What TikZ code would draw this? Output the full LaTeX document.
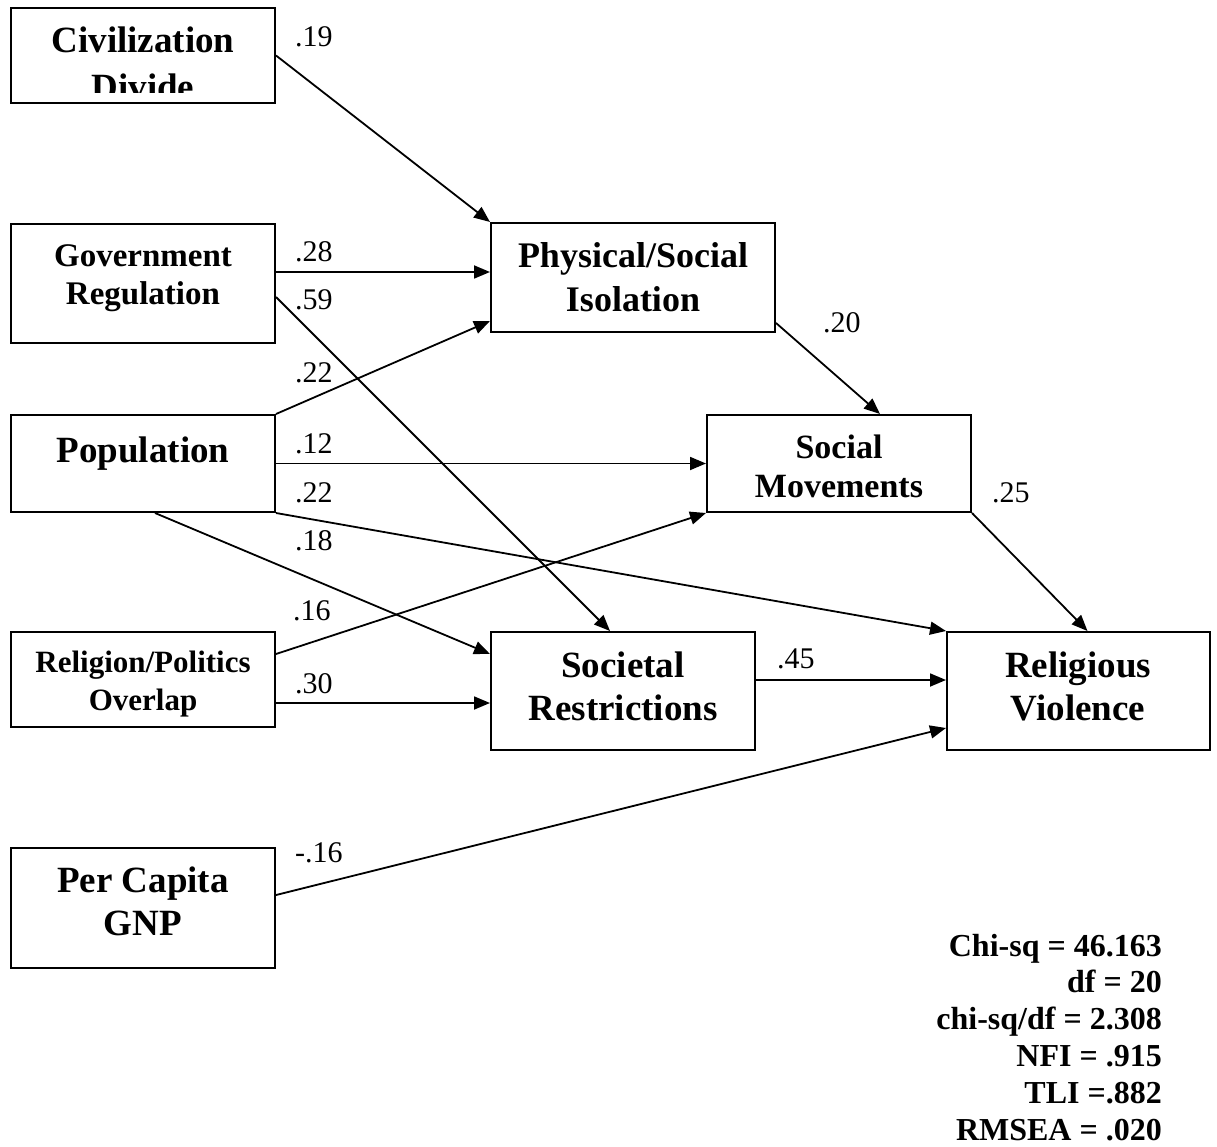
\documentclass[tikz,border=0pt]{standalone}
\usepackage{fontspec}
\setmainfont{Liberation Serif}
\usetikzlibrary{arrows.meta,calc}
\newcommand\twoline[2]{\begin{tabular}[t]{@{}c@{}}#1\\#2\end{tabular}}
\begin{document}
\begin{tikzpicture}[x=1pt,y=-1pt,
  box/.style={draw, line width=2pt, inner sep=0pt, minimum width=264pt},
  txt/.style={inner sep=0pt, anchor=base},
  coef/.style={inner sep=0pt, anchor=base west, font=\fontsize{30}{32}\selectfont},
  arr/.style={line width=1.8pt, -{Triangle[length=16pt,width=13pt]}}]
\useasboundingbox[fill=white] (0,0) rectangle (1217,1147);

% boxes
\node[box, minimum height=95pt] (civ) at (143,55.5) {};
\node[box, minimum height=119pt] (gov) at (143,283.5) {};
\node[box, minimum height=97pt] (pop) at (143,463.5) {};
\node[box, minimum height=95pt] (relpol) at (143,679.5) {};
\node[box, minimum height=120pt] (gnp) at (143,908) {};
\node[box, minimum width=284pt, minimum height=109pt] (phys) at (633,277.5) {};
\node[box, minimum height=97pt] (socmov) at (839,463.5) {};
\node[box, minimum height=118pt] (soc) at (623,691) {};
\node[box, minimum width=263pt, minimum height=118pt] (relviol) at (1078.5,691) {};

% box texts
\begin{scope}
  \clip (12,9) rectangle (274,93);
  \node[txt, font=\fontsize{37}{47}\selectfont\bfseries] (civt) at (143,53) {\twoline{Civilization}{Divide}};
\end{scope}
\node[txt, font=\fontsize{33}{38}\selectfont\bfseries] (govt) at (143,267) {\twoline{Government}{Regulation}};
\node[txt, font=\fontsize{37}{44}\selectfont\bfseries] (popt) at (143,462) {Population};
\node[txt, font=\fontsize{31}{38}\selectfont\bfseries] (relpolt) at (143,672) {\twoline{Religion/Politics}{Overlap}};
\node[txt, font=\fontsize{37}{43}\selectfont\bfseries] (gnpt) at (143,892) {\twoline{Per Capita}{GNP}};
\node[txt, font=\fontsize{36}{44}\selectfont\bfseries] (physt) at (633,268) {\twoline{Physical/Social}{Isolation}};
\node[txt, font=\fontsize{34}{39}\selectfont\bfseries] (socmovt) at (839,458) {\twoline{Social}{Movements}};
\node[txt, font=\fontsize{37}{43}\selectfont\bfseries] (soct) at (623,677) {\twoline{Societal}{Restrictions}};
\node[txt, font=\fontsize{37}{43}\selectfont\bfseries] (relviolt) at (1078,677) {\twoline{Religious}{Violence}};

% paths
\draw[arr] (civ.east) -- (phys.north west);
\draw[arr] ($(gov.east)+(0,-11.5)$) -- ($(phys.west)+(0,-5.5)$);
\draw[arr] (pop.north east) -- ($(phys.south west)+(0,-12)$);
\draw[arr] ($(gov.east)+(0,13.5)$) -- ($(soc.north)+(-13,0)$);
\draw[arr] (pop.east) -- (socmov.west);
\draw[arr] (pop.south east) -- (relviol.north west);
\draw[arr] ($(pop.south)+(12,0)$) -- ($(soc.north west)+(0,23)$);
\draw[arr] ($(relpol.north east)+(0,23)$) -- (socmov.south west);
\draw[arr] ($(relpol.east)+(0,23.5)$) -- ($(soc.west)+(0,12)$);
\draw[arr] ($(phys.south east)+(0,-10)$) -- ($(socmov.north)+(41,0)$);
\draw[arr] (socmov.south east) -- ($(relviol.north)+(9,0)$);
\draw[arr] ($(soc.east)+(0,-11)$) -- ($(relviol.west)+(0,-11)$);
\draw[arr] ($(gnp.east)+(0,-13)$) -- ($(relviol.south west)+(0,-23)$);

% coefficients
\node[coef] (c1) at (295,47) {.19};
\node[coef] (c2) at (295,262) {.28};
\node[coef] (c3) at (295,310) {.59};
\node[coef] (c4) at (295,382) {.22};
\node[coef] (c5) at (295,453) {.12};
\node[coef] (c6) at (295,502) {.22};
\node[coef] (c7) at (295,550) {.18};
\node[coef] (c8) at (293,620) {.16};
\node[coef] (c9) at (295,693) {.30};
\node[coef] (c10) at (823,333) {.20};
\node[coef] (c11) at (992,502) {.25};
\node[coef] (c12) at (777,668) {.45};
\node[coef] (c13) at (295,862) {-.16};

% fit statistics
\node[inner sep=0pt, anchor=base east, font=\fontsize{32}{36.8}\selectfont\bfseries] (fit) at (1162,956)
  {\begin{tabular}[t]{@{}r@{}}Chi-sq = 46.163\\ df = 20\\ chi-sq/df = 2.308\\ NFI = .915\\ TLI =.882\\ RMSEA = .020\end{tabular}};
\end{tikzpicture}
\end{document}
